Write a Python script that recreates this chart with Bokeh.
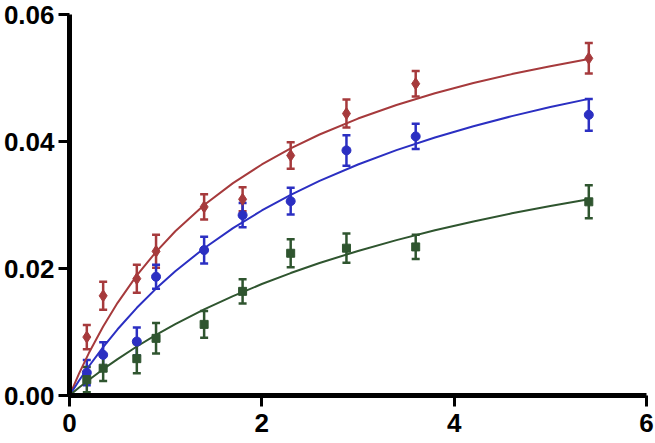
from bokeh.plotting import figure
from bokeh.models import ColumnDataSource, Whisker, TeeHead, FixedTicker, Range1d
from bokeh.embed import file_html
from bokeh.resources import INLINE

# Measured data points
x_pts = [0.18, 0.35, 0.7, 0.9, 1.4, 1.8, 2.3, 2.88, 3.6, 5.4]
red_y = [0.0092, 0.0157, 0.0184, 0.0227, 0.0297, 0.0309, 0.0378, 0.0444, 0.0491, 0.0531]
red_err = [0.0019, 0.0022, 0.0022, 0.0026, 0.0020, 0.0019, 0.0021, 0.0022, 0.0020, 0.0024]
blue_y = [0.0036, 0.0064, 0.0085, 0.0187, 0.0229, 0.0284, 0.0306, 0.0386, 0.0408, 0.0442]
blue_err = [0.0020, 0.0020, 0.0022, 0.0019, 0.0021, 0.0019, 0.0021, 0.0024, 0.0020, 0.0025]
green_y = [0.0025, 0.0043, 0.0058, 0.0090, 0.0112, 0.0164, 0.0224, 0.0232, 0.0234, 0.0305]
green_err = [0.0020, 0.0020, 0.0023, 0.0024, 0.0021, 0.0019, 0.0022, 0.0023, 0.0019, 0.0026]

# Fitted curves
x_curve = [0, 0.1, 0.2, 0.35, 0.5, 0.7, 0.9, 1.1, 1.4, 1.7, 2.0, 2.3, 2.6, 3.0, 3.4, 3.8,
           4.2, 4.6, 5.0, 5.4]
red_curve = [0, 0.003481, 0.006642, 0.010876, 0.014597, 0.018910, 0.022625, 0.025857,
             0.029988, 0.033446, 0.036382, 0.038907, 0.041100, 0.043614, 0.045755,
             0.047598, 0.049204, 0.050614, 0.051862, 0.052976]
blue_curve = [0, 0.002358, 0.004568, 0.007633, 0.010432, 0.013809, 0.016837, 0.019568,
              0.023195, 0.026355, 0.029135, 0.031598, 0.033795, 0.036382, 0.038644,
              0.040638, 0.042410, 0.043995, 0.045420, 0.046710]
green_curve = [0, 0.001250, 0.002445, 0.004144, 0.005738, 0.007717, 0.009545, 0.011241,
               0.013564, 0.015658, 0.017555, 0.019281, 0.020860, 0.022764, 0.024473,
               0.026015, 0.027413, 0.028686, 0.029851, 0.030920]

x_ticks = [0, 2, 4, 6]
y_ticks = [0, 0.02, 0.04, 0.06]
y_tick_labels = ["0.00", "0.02", "0.04", "0.06"]

RED = "#a63a3c"
BLUE = "#2b2fc2"
GREEN = "#2f552f"

p = figure(width=655, height=443, output_backend="svg", toolbar_location=None,
           x_range=Range1d(0, 6), y_range=Range1d(0, 0.06),
           min_border_left=68, min_border_right=9, min_border_top=14, min_border_bottom=48)
p.outline_line_color = None
p.grid.visible = False
p.background_fill_color = "white"
p.border_fill_color = "white"

for ax in (p.xaxis[0], p.yaxis[0]):
    ax.axis_line_width = 5
    ax.axis_line_color = "black"
    ax.major_tick_line_width = 3
    ax.major_tick_line_color = "black"
    ax.major_tick_in = 0
    ax.major_tick_out = 11
    ax.minor_tick_line_color = None
    ax.major_label_text_font = "Liberation Sans"
    ax.major_label_text_font_style = "bold"
    ax.major_label_text_font_size = "26px"
    ax.major_label_text_color = "black"

p.xaxis.ticker = FixedTicker(ticks=x_ticks)
p.yaxis.ticker = FixedTicker(ticks=y_ticks)
p.yaxis.major_label_overrides = {t: l for t, l in zip(y_ticks, y_tick_labels)}
p.xaxis.major_label_standoff = 7
p.yaxis.major_label_standoff = 4

series = [
    (red_y, red_err, red_curve, RED, "diamond", 12),
    (blue_y, blue_err, blue_curve, BLUE, "circle", 9),
    (green_y, green_err, green_curve, GREEN, "square", 8),
]

for ys, errs, curve, col, marker, size in series:
    p.line(x_curve, curve, line_color=col, line_width=2)

for ys, errs, curve, col, marker, size in series:
    src = ColumnDataSource(dict(
        x=x_pts, y=ys,
        lo=[y - e for y, e in zip(ys, errs)],
        hi=[y + e for y, e in zip(ys, errs)],
    ))
    w = Whisker(source=src, base="x", upper="hi", lower="lo",
                line_color=col, line_width=2.5,
                upper_head=TeeHead(size=8, line_color=col, line_width=2.5),
                lower_head=TeeHead(size=8, line_color=col, line_width=2.5))
    p.add_layout(w)
    p.scatter("x", "y", source=src, marker=marker, size=size,
              fill_color=col, line_color=col)

open("out.html", "w").write(file_html(p, INLINE))
